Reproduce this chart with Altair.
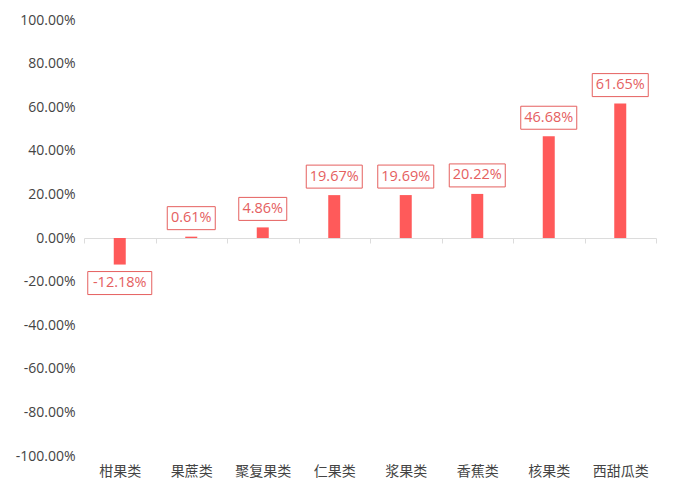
import altair as alt
import pandas as pd

categories = ["柑果类", "果蔗类", "聚复果类", "仁果类", "浆果类", "香蕉类", "核果类", "西甜瓜类"]
values = [-12.18, 0.61, 4.86, 19.67, 19.69, 20.22, 46.68, 61.65]
y_ticks = [-1.0, -0.8, -0.6, -0.4, -0.2, 0.0, 0.2, 0.4, 0.6, 0.8, 1.0]

df = pd.DataFrame({"cat": categories, "v": [x / 100 for x in values]})

W, H = 572, 436
FONT = "'Open Sans', 'Noto Sans CJK SC', sans-serif"
BAR = "#ff5a5a"
LAB = "#e5605f"
FMT = "replace(format(datum.v, '.2%'), '\u2212', '-')"

base = alt.Chart(df).transform_calculate(
    lab=FMT
).transform_calculate(
    w="length(datum.lab) * 8 + 8"
).encode(
    x=alt.X(
        "cat:N",
        sort=categories,
        scale=alt.Scale(paddingInner=0, paddingOuter=0),
        axis=alt.Axis(
            title=None, orient="bottom", offset=-H / 2, labelAngle=0,
            domainColor="#dcdcdc", tickColor="#dcdcdc", tickSize=5,
            tickBand="extent", labelPadding=221, labelFontSize=14,
            labelColor="#444", labelFont=FONT,
        ),
    ),
    y=alt.Y(
        "v:Q",
        scale=alt.Scale(domain=[-1, 1], nice=False, zero=True),
        axis=alt.Axis(
            title=None, values=y_ticks, domain=False, ticks=False, grid=False,
            labelExpr="replace(format(datum.value, '.2%'), '\u2212', '-')",
            labelPadding=9, labelFontSize=14, labelColor="#444", labelFont=FONT,
        ),
    ),
)

bars = base.mark_bar(size=12, color=BAR)

box_pos = base.transform_filter("datum.v >= 0").mark_bar(
    fill="white", stroke=LAB, strokeWidth=1, yOffset=-7, y2Offset=-30
).encode(y2=alt.Y2("v:Q"), size=alt.Size("w:Q", scale=None, legend=None))

box_neg = base.transform_filter("datum.v < 0").mark_bar(
    fill="white", stroke=LAB, strokeWidth=1, yOffset=7, y2Offset=30
).encode(y2=alt.Y2("v:Q"), size=alt.Size("w:Q", scale=None, legend=None))

txt_pos = base.transform_filter("datum.v >= 0").mark_text(
    dy=-18.5, fontSize=14.5, color=LAB, font=FONT, baseline="middle"
).encode(text="lab:N")

txt_neg = base.transform_filter("datum.v < 0").mark_text(
    dy=18.5, fontSize=14.5, color=LAB, font=FONT, baseline="middle"
).encode(text="lab:N")

chart = alt.layer(bars, box_pos, box_neg, txt_pos, txt_neg).properties(
    width=W, height=H,
    autosize=alt.AutoSizeParams(type="none"),
    padding={"left": 76, "top": 12, "right": 12, "bottom": 26},
).configure_view(stroke=None)

chart.save("out.html", embed_options={"renderer": "svg", "actions": False})
